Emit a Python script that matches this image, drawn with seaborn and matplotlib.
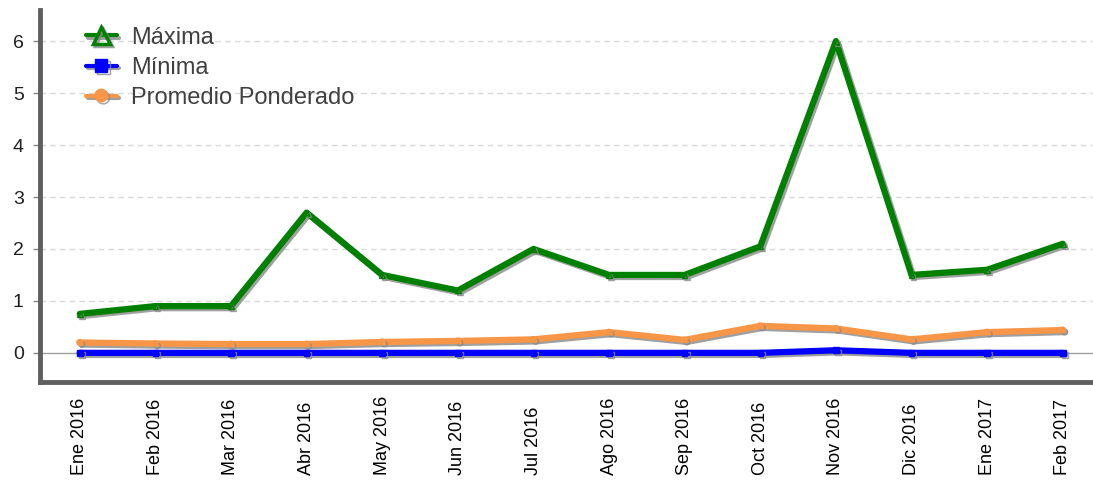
import pandas as pd
import numpy as np
import matplotlib
matplotlib.use("Agg")
import matplotlib.pyplot as plt
import matplotlib.patheffects as pe
from matplotlib.lines import Line2D
import seaborn as sns

# data
meses = ["Ene 2016", "Feb 2016", "Mar 2016", "Abr 2016", "May 2016", "Jun 2016",
         "Jul 2016", "Ago 2016", "Sep 2016", "Oct 2016", "Nov 2016", "Dic 2016",
         "Ene 2017", "Feb 2017"]
maxima = [0.75, 0.9, 0.9, 2.7, 1.5, 1.2, 2.0, 1.5, 1.5, 2.05, 6.0, 1.5, 1.6, 2.1]
minima = [0.0, 0.0, 0.0, 0.0, 0.0, 0.0, 0.0, 0.0, 0.0, 0.0, 0.05, 0.0, 0.0, 0.0]
promedio = [0.2, 0.18, 0.17, 0.17, 0.21, 0.23, 0.26, 0.4, 0.25, 0.52, 0.47, 0.26, 0.4, 0.44]

sns.set_style("white")
plt.rcParams['font.family'] = ['Liberation Sans', 'DejaVu Sans']

df = pd.DataFrame({"x": np.arange(len(meses)), "Máxima": maxima,
                   "Mínima": minima, "Promedio Ponderado": promedio})

fig, ax = plt.subplots(figsize=(10.93, 4.98), dpi=100)
fig.subplots_adjust(left=0.037, right=1.0, top=0.98, bottom=0.233)

# grid + zero line
for v in range(1, 7):
    ax.axhline(v, color="#d9d9d9", lw=1, ls=(0, (4, 3)), zorder=0)
ax.axhline(0, color="#a0a0a0", lw=1, zorder=0)

shadow = [pe.SimpleLineShadow(offset=(1.5, -1.5), shadow_color="#888888", alpha=0.8), pe.Normal()]

series = [
    ("Promedio Ponderado", "#f79646", "o", "#f79646"),
    ("Mínima", "#0000ff", "s", "#0000ff"),
    ("Máxima", "#008000", "^", "none"),
]
for name, col, mk, fc in series:
    sns.lineplot(data=df, x="x", y=name, ax=ax, color=col, lw=4.5,
                 marker=mk, markersize=4, markerfacecolor=fc,
                 markeredgecolor=col, markeredgewidth=1,
                 path_effects=shadow, legend=False, zorder=3)

ax.set_xlim(-0.52, 13.4)
ax.set_ylim(-0.56, 6.6)
ax.set_yticks(range(0, 7))
ax.set_xticks(df["x"])
ax.set_xticklabels(meses, rotation=90, fontsize=13, color="#000000", va="bottom")
ax.tick_params(axis="y", labelsize=14, length=5, width=1, color="#888888",
               left=True, pad=7, labelcolor="#202020")
ax.tick_params(axis="x", length=0, pad=67)
ax.set_xlabel("")
ax.set_ylabel("")

for s in ["top", "right"]:
    ax.spines[s].set_visible(False)
for s in ["left", "bottom"]:
    ax.spines[s].set_color("#5f5f5f")
    ax.spines[s].set_linewidth(3.5)

# legend handles: short lines with large markers
handles = [
    Line2D([], [], color="#008000", lw=3, marker="^", markersize=12,
           markerfacecolor="none", markeredgewidth=2.5,
           path_effects=shadow),
    Line2D([], [], color="#0000ff", lw=3, marker="s", markersize=9,
           path_effects=shadow),
    Line2D([], [], color="#f79646", lw=3, marker="o", markersize=9,
           path_effects=shadow),
]
ax.legend(handles, ["Máxima", "Mínima", "Promedio Ponderado"],
          loc="upper left", bbox_to_anchor=(0.023, 1.012), frameon=False,
          fontsize=17, handlelength=1.3, handletextpad=0.6, labelspacing=0.34,
          labelcolor="#404040")

fig.savefig("out.png", dpi=100)
